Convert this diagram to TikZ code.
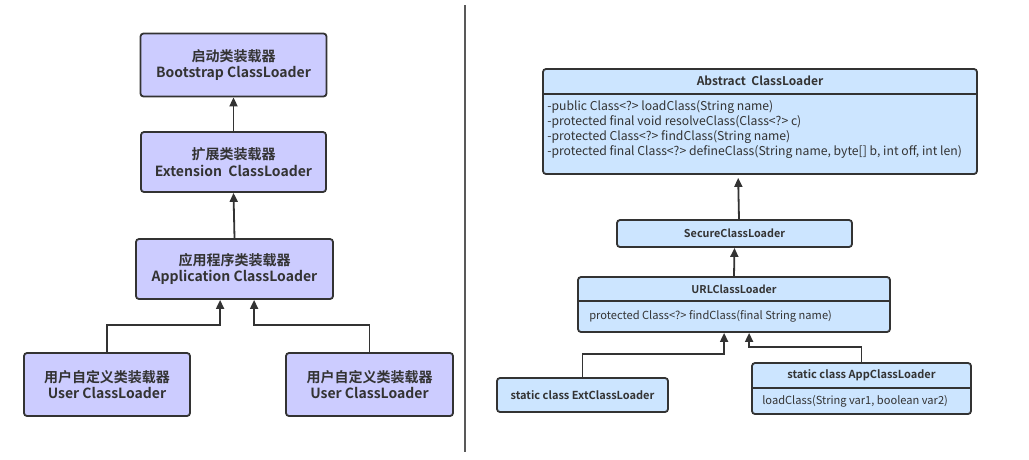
\documentclass[tikz,border=0pt]{standalone}
\usepackage{fontspec}
\setmainfont{Noto Sans CJK SC}[BoldFont={Noto Sans CJK SC Bold}]
\usetikzlibrary{arrows.meta,calc}
\definecolor{lav}{HTML}{CCCCFF}
\definecolor{lblue}{HTML}{CCE5FF}
\definecolor{edge}{HTML}{333333}
\definecolor{txt}{HTML}{333333}
\tikzset{
  box/.style={draw=edge,line width=1.8pt,rounded corners=3pt,inner sep=0pt,text=txt},
  lbox/.style={box,fill=lav,align=center,font=\bfseries\fontsize{14}{16.5}\selectfont},
  rbox/.style={box,fill=lblue},
  ttl/.style={inner sep=0pt,text=txt,font=\bfseries\fontsize{11}{13}\selectfont},
  bodytxt/.style={inner sep=0pt,text=txt,align=left,font=\fontsize{11.1}{15}\selectfont},
  arr/.style={draw=edge,line width=1.8pt,-{Triangle[length=9pt,width=8pt]}},
  sep/.style={draw=edge,line width=1.8pt}
}
\begin{document}
\begin{tikzpicture}[x=1pt,y=-1pt]
\useasboundingbox (0,0) rectangle (1029,459);
% divider
\draw[draw=black!65,line width=1.4pt] (465,5) coordinate (d1) -- (465,452) coordinate (d2);
% left side
\node[lbox,minimum width=186pt,minimum height=63pt] (boot) at (233.5,65) {启动类装载器\\Bootstrap ClassLoader};
\node[lbox,minimum width=185pt,minimum height=60pt] (ext) at (233.5,162) {扩展类装载器\\Extension\ \ ClassLoader};
\node[lbox,minimum width=197pt,minimum height=60pt] (app) at (234.5,269) {应用程序类装载器\\Application ClassLoader};
\node[lbox,minimum width=166pt,minimum height=63pt] (u1) at (107,384.5) {用户自定义类装载器\\User ClassLoader};
\node[lbox,minimum width=167pt,minimum height=63pt] (u2) at (369.5,384.5) {用户自定义类装载器\\User ClassLoader};
\draw[arr] (ext.north) -- (boot.south);
\draw[arr] (app.north) -- (ext.south);
\draw[arr] (u1.north) -- ++(0,-27) -| ($(app.south west)+(85,0)$);
\draw[arr] (u2.north) -- ++(0,-27) -| ($(app.south west)+(119,0)$);
% right side
\node[rbox,minimum width=434pt,minimum height=105pt] (abs) at (760,121.5) {};
\draw[sep] ($(abs.north west)+(0,26)$) -- ($(abs.north east)+(0,26)$);
\node[ttl,font=\bfseries\fontsize{12}{14}\selectfont] (absT) at ($(abs.north)+(0,13)$) {Abstract\ \ ClassLoader};
\node[bodytxt,anchor=north west,font=\fontsize{12.2}{15}\selectfont] (absB) at ($(abs.north west)+(5,32)$) {-public Class<?> loadClass(String name)\\-protected final void resolveClass(Class<?> c)\\-protected Class<?> findClass(String name)\\-protected final Class<?> defineClass(String name, byte[] b, int off, int len)};
\node[rbox,minimum width=235pt,minimum height=27pt,font=\bfseries\fontsize{10.8}{13}\selectfont] (sec) at (734.5,233.5) {SecureClassLoader};
\node[rbox,minimum width=312pt,minimum height=55pt] (url) at (734,304.5) {};
\draw[sep] ($(url.north west)+(0,25)$) -- ($(url.north east)+(0,25)$);
\node[ttl,font=\bfseries\fontsize{10.7}{13}\selectfont] (urlT) at ($(url.north)+(0,13)$) {URLClassLoader};
\node[bodytxt,anchor=west] (urlB) at ($(url.north west)+(12,40)$) {protected Class<?> findClass(final String name)};
\node[rbox,minimum width=171pt,minimum height=34pt,font=\bfseries\fontsize{11}{13}\selectfont] (extcl) at (582.5,395) {static class ExtClassLoader};
\node[rbox,minimum width=219pt,minimum height=51pt] (appcl) at (861.5,388.5) {};
\draw[sep] ($(appcl.north west)+(0,26)$) -- ($(appcl.north east)+(0,26)$);
\node[ttl] (appT) at ($(appcl.north)+(0,13)$) {static class AppClassLoader};
\node[bodytxt,anchor=west] (appB) at ($(appcl.north west)+(11,39)$) {loadClass(String var1, boolean var2)};
\draw[arr,shorten >=3pt] ($(sec.north)+(4.5,0)$) -- ($(abs.south west)+(196,0)$);
\draw[arr] (url.north) -- (sec.south);
\draw[arr] (extcl.north) -- ++(0,-23) -| ($(url.south west)+(147,0)$);
\draw[arr] (appcl.north) -- ++(0,-15) -| ($(url.south west)+(172,0)$);
\end{tikzpicture}
\end{document}
